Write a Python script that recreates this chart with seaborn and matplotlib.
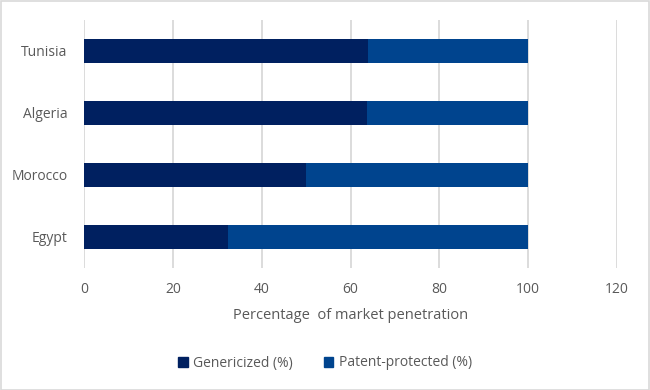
import pandas as pd
import numpy as np
import seaborn as sns
import matplotlib.pyplot as plt
from matplotlib.patches import Rectangle, Patch

countries = ["Tunisia", "Algeria", "Morocco", "Egypt"]
genericized = [64, 63.8, 50, 32.4]
patent_protected = [36, 36.2, 50, 67.6]

df = pd.DataFrame({
    "country": countries,
    "gen": genericized,
    "total": np.array(genericized) + np.array(patent_protected),
})

sns.set_style("white")
plt.rcParams["font.family"] = ["Open Sans", "DejaVu Sans"]

c_gen = "#002060"
c_pat = "#00448E"
txt = "#595959"

fig = plt.figure(figsize=(6.5, 3.9), dpi=100)
ax = fig.add_axes([84 / 650, 1 - 268 / 390, (617 - 84) / 650, (268 - 20) / 390])

sns.barplot(data=df, x="total", y="country", order=countries, color=c_pat,
            width=0.39, saturation=1, linewidth=0, ax=ax, zorder=2)
sns.barplot(data=df, x="gen", y="country", order=countries, color=c_gen,
            width=0.39, saturation=1, linewidth=0, ax=ax, zorder=3)

ax.set_xlim(0, 120)
ax.set_xticks(range(0, 121, 20))
ax.grid(axis="x", color="#D9D9D9", linewidth=1.3, zorder=0)
ax.set_axisbelow(True)
for s in ax.spines.values():
    s.set_visible(False)
ax.tick_params(axis="both", length=0, labelsize=10, colors=txt, pad=10)
ax.tick_params(axis="y", pad=12)
ax.set_ylabel("")
ax.set_xlabel("Percentage  of market penetration", fontsize=10.5, color=txt, labelpad=8)

handles = [Patch(color=c_gen, label="Genericized (%)"),
           Patch(color=c_pat, label="Patent-protected (%)")]
fig.legend(handles=handles, loc="center", bbox_to_anchor=(0.5, 1 - 363 / 390), ncol=2,
           frameon=False, fontsize=10, labelcolor=txt, handlelength=0.7, handleheight=0.7,
           handletextpad=0.4, columnspacing=2.2)

fig.patches.append(Rectangle((0.001, 0.001), 0.997, 0.997, transform=fig.transFigure,
                             fill=False, edgecolor="#D9D9D9", linewidth=1.2))

fig.savefig("out.png", dpi=100, facecolor="white")
